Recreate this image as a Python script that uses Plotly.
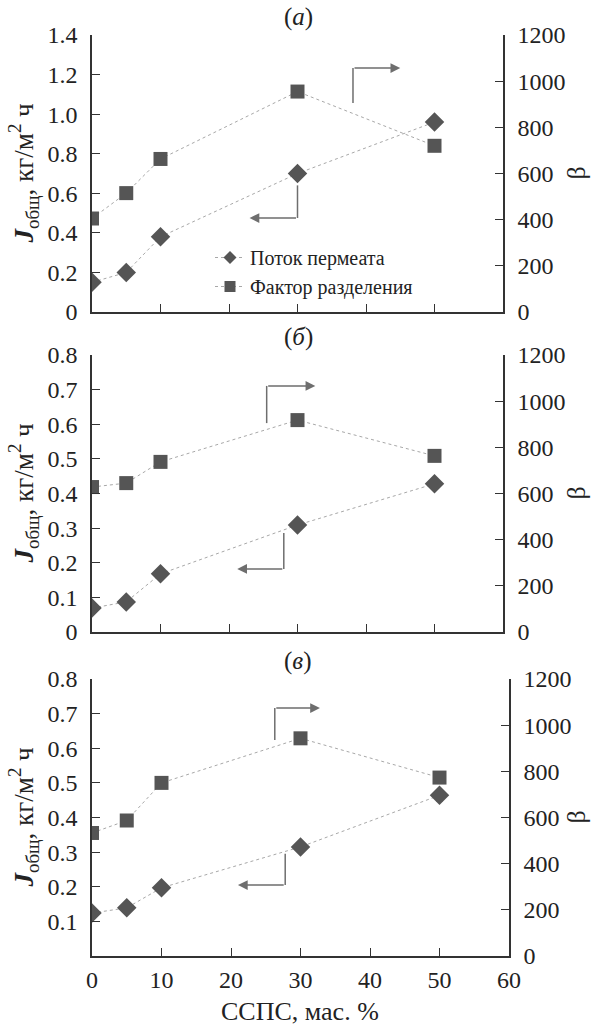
import plotly.graph_objects as go

# ---------------- data ----------------
ccps = [0, 5, 10, 30, 50]  # ССПС, мас. %

flux_a = [0.15, 0.20, 0.38, 0.70, 0.96]
beta_a = [405, 515, 663, 955, 720]

flux_b = [0.069, 0.087, 0.168, 0.309, 0.428]
beta_b = [628, 645, 737, 918, 763]

flux_c = [0.124, 0.139, 0.197, 0.315, 0.464]
flux_c_err = [0, 0, 0, 0, 0.016]
beta_c = [533, 587, 750, 943, 773]

x_ticks = [0, 10, 20, 30, 40, 50, 60]
x_ticktext = ["0", "10", "20", "30", "40", "50", "60"]
ya_ticks = [0, 0.2, 0.4, 0.6, 0.8, 1.0, 1.2, 1.4]
ya_ticktext = ["0", "0.2", "0.4", "0.6", "0.8", "1.0", "1.2", "1.4"]
yb_ticks = [0, 0.1, 0.2, 0.3, 0.4, 0.5, 0.6, 0.7, 0.8]
yb_ticktext = ["0", "0.1", "0.2", "0.3", "0.4", "0.5", "0.6", "0.7", "0.8"]
yc_ticks = [0.1, 0.2, 0.3, 0.4, 0.5, 0.6, 0.7, 0.8]
yc_ticktext = ["0.1", "0.2", "0.3", "0.4", "0.5", "0.6", "0.7", "0.8"]
beta_ticks = [0, 200, 400, 600, 800, 1000, 1200]
beta_ticktext = ["0", "200", "400", "600", "800", "1000", "1200"]

panel_labels = ["(<i>а</i>)", "(<i>б</i>)", "(<i>в</i>)"]
legend_names = ["Поток пермеата", "Фактор разделения"]
ylabel = "<b><i>J</i></b><sub>общ</sub>, кг/м<sup>2</sup> ч"
y2label = "β"
xlabel = "ССПС, мас. %"

# arrow guides (data coordinates): (x_vert, y_start, y_corner, x_tip)
arrows_left = [(30.0, 0.64, 0.475, 23.0), (28.0, 0.286, 0.182, 21.2), (27.8, 0.295, 0.205, 21.0)]
arrows_right = [(38.1, 905, 1057, 45.0), (25.5, 905, 1066, 32.6), (26.3, 936, 1074, 32.8)]

# ---------------- style ----------------
W, H = 592, 1025
FONT = "Liberation Serif, Times New Roman, serif"
MARK = "#555555"
LINE = "#a8a8a8"
AX = "#333333"
ARR = "#6e6e6e"
TXT = "#222222"

fig = go.Figure()

panels = [
    dict(flux=flux_a, beta=beta_a, err=None, yr=[0, 1.4], yt=ya_ticks, ytt=ya_ticktext,
         xl=92, xr=503, top=35, bot=312),
    dict(flux=flux_b, beta=beta_b, err=None, yr=[0, 0.8], yt=yb_ticks, ytt=yb_ticktext,
         xl=92, xr=503, top=355, bot=632),
    dict(flux=flux_c, beta=beta_c, err=flux_c_err, yr=[0, 0.8], yt=yc_ticks, ytt=yc_ticktext,
         xl=92, xr=509, top=679, bot=956),
]

layout = {}
annotations = []
shapes = []
for i, p in enumerate(panels):
    k = i + 1
    xa = f"x{'' if k == 1 else k}"
    ya = f"y{2*k-1 if k > 1 else ''}"
    yb = f"y{2*k}"
    xname = "xaxis" + ("" if k == 1 else str(k))
    yaname = "yaxis" + ("" if k == 1 else str(2*k-1))
    ybname = "yaxis" + str(2*k)

    fig.add_trace(go.Scatter(
        x=ccps, y=p["flux"], xaxis=xa, yaxis=ya, mode="lines+markers",
        name=legend_names[0], showlegend=False,
        line=dict(color=LINE, width=1, dash="dot"),
        marker=dict(symbol="diamond", size=15, color=MARK),
        error_y=(dict(type="data", array=p["err"], visible=True, color=MARK, thickness=1.5, width=3)
                 if p["err"] else None),
    ))
    fig.add_trace(go.Scatter(
        x=ccps, y=p["beta"], xaxis=xa, yaxis=yb, mode="lines+markers",
        name=legend_names[1], showlegend=False,
        line=dict(color=LINE, width=1, dash="dot"),
        marker=dict(symbol="square", size=14, color=MARK),
    ))

    xdom = [p["xl"] / W, p["xr"] / W]
    ydom = [1 - p["bot"] / H, 1 - p["top"] / H]
    common = dict(showgrid=False, zeroline=False, showline=True, linecolor=AX, linewidth=1.5,
                  ticks="inside", ticklen=8, tickwidth=1.2, tickcolor=AX, automargin=False,
                  tickfont=dict(family=FONT, size=24, color=TXT))
    layout[xname] = dict(common, domain=xdom, anchor=ya, range=[0, 60], tickvals=x_ticks,
                         ticktext=x_ticktext, showticklabels=(k == 3), ticklabelstandoff=1)
    layout[yaname] = dict(common, domain=ydom, anchor=xa, range=p["yr"], tickvals=p["yt"],
                          ticktext=p["ytt"], ticklabelstandoff=8)
    layout[ybname] = dict(common, domain=ydom, anchor=xa, overlaying=ya, side="right",
                          range=[0, 1200], tickvals=beta_ticks, ticktext=beta_ticktext,
                          ticklabelstandoff=8)

    ymid = 1 - (p["top"] + p["bot"]) / 2 / H
    # axis titles
    annotations.append(dict(text=ylabel, xref="paper", yref="paper", x=23 / W, y=ymid,
                            textangle=-90, showarrow=False, xanchor="center", yanchor="middle",
                            font=dict(family=FONT, size=27, color=TXT)))
    annotations.append(dict(text=y2label, xref="paper", yref="paper", x=576 / W, y=ymid,
                            textangle=-90, showarrow=False, xanchor="center", yanchor="middle",
                            font=dict(family=FONT, size=26, color=TXT)))
    # panel label
    annotations.append(dict(text=panel_labels[i], xref="paper", yref="paper",
                            x=(92 + 206) / W, y=1 - (p["top"] - 18) / H,
                            showarrow=False, font=dict(family=FONT, size=25, color=TXT),
                            xanchor="center", yanchor="middle"))

    # left arrow (to flux axis)
    xv, y0, y1, xt = arrows_left[i]
    shapes.append(dict(type="line", xref=xa, yref=ya, x0=xv, x1=xv, y0=y0, y1=y1,
                       line=dict(color=ARR, width=1.5)))
    annotations.append(dict(text="", xref=xa, yref=ya, axref=xa, ayref=ya,
                            x=xt, y=y1, ax=xv, ay=y1, showarrow=True, arrowhead=2,
                            arrowsize=1.3, arrowwidth=1.5, arrowcolor=ARR))
    # right arrow (to beta axis)
    xv, y0, y1, xt = arrows_right[i]
    shapes.append(dict(type="line", xref=xa, yref=yb, x0=xv, x1=xv, y0=y0, y1=y1,
                       line=dict(color=ARR, width=1.5)))
    annotations.append(dict(text="", xref=xa, yref=yb, axref=xa, ayref=yb,
                            x=xt, y=y1, ax=xv, ay=y1, showarrow=True, arrowhead=2,
                            arrowsize=1.3, arrowwidth=1.5, arrowcolor=ARR))

# legend-only entries (smaller symbols, as in the reference legend)
fig.add_trace(go.Scatter(x=[None], y=[None], xaxis="x", yaxis="y", mode="lines+markers",
                         name=legend_names[0], line=dict(color=LINE, width=1, dash="dot"),
                         marker=dict(symbol="diamond", size=10, color=MARK)))
fig.add_trace(go.Scatter(x=[None], y=[None], xaxis="x", yaxis="y2", mode="lines+markers",
                         name=legend_names[1], line=dict(color=LINE, width=1, dash="dot"),
                         marker=dict(symbol="square", size=11, color=MARK)))

# x-axis title
annotations.append(dict(text=xlabel, xref="paper", yref="paper", x=300 / W, y=1 - 1011 / H,
                        showarrow=False, xanchor="center", yanchor="middle",
                        font=dict(family=FONT, size=26, color=TXT)))

fig.update_layout(
    width=W, height=H, margin=dict(l=0, r=0, t=0, b=0),
    paper_bgcolor="white", plot_bgcolor="white",
    font=dict(family=FONT, color=TXT),
    showlegend=True,
    legend=dict(x=210 / W, y=1 - 238 / H, xanchor="left", yanchor="top",
                bgcolor="rgba(0,0,0,0)", font=dict(family=FONT, size=20, color=TXT),
                tracegroupgap=0, itemwidth=30),
    annotations=annotations, shapes=shapes,
    **layout,
)

fig.write_html("out.html", config={"displayModeBar": False},
               post_script="document.body.style.margin='0';document.body.style.padding='0';")
